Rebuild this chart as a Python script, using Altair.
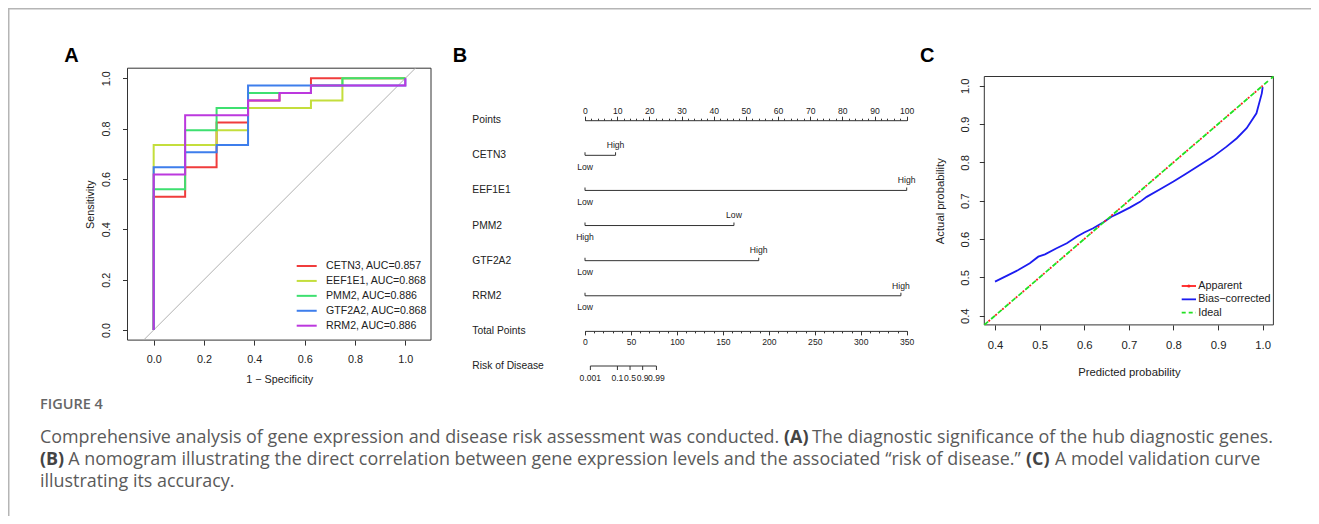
import math
import altair as alt
import pandas as pd

# ======================= DATA =======================
# Panel A - ROC curves (sensitivity level after each 1-specificity step)
genes = ["CETN3", "EEF1E1", "PMM2", "GTF2A2", "RRM2"]
gene_auc = ["0.857", "0.868", "0.886", "0.868", "0.886"]
fpr_steps = [0.0, 0.125, 0.25, 0.375, 0.5, 0.625, 0.75, 0.875]
sens_cetn3 = [0.529, 0.647, 0.824, 0.912, 0.941, 1.0, 1.0, 1.0]
sens_eef1e1 = [0.735, 0.735, 0.794, 0.882, 0.882, 0.912, 1.0, 1.0]
sens_pmm2 = [0.559, 0.794, 0.882, 0.941, 0.941, 0.971, 1.0, 1.0]
sens_gtf2a2 = [0.647, 0.706, 0.735, 0.971, 0.971, 0.971, 0.971, 0.971]
sens_rrm2 = [0.618, 0.853, 0.853, 0.912, 0.941, 0.971, 0.971, 0.971]
roc_sens = [sens_cetn3, sens_eef1e1, sens_pmm2, sens_gtf2a2, sens_rrm2]
roc_colors = ["#F03C3C", "#C4DE3C", "#3EE070", "#3E7EEC", "#BC38DE"]
roc_ticks = [0.0, 0.2, 0.4, 0.6, 0.8, 1.0]

# Panel B - nomogram
nomo_rows = ["Points", "CETN3", "EEF1E1", "PMM2", "GTF2A2", "RRM2",
             "Total Points", "Risk of Disease"]
gene_max_points = [9.5, 100.0, 46.3, 54.0, 98.2]
gene_left_label = ["Low", "Low", "High", "Low", "Low"]
gene_right_label = ["High", "High", "Low", "High", "High"]
points_major = list(range(0, 101, 10))
points_minor = list(range(0, 101, 2))
total_major = list(range(0, 351, 50))
total_minor = list(range(0, 351, 10))
risk_ticks = [0.001, 0.1, 0.5, 0.9, 0.99]
risk_labels = ["0.001", "0.1", "0.5", "0.9", "0.99"]
risk_intercept = 49.0   # total points where risk = 0.5
risk_slope = 6.25       # total points per logit unit

# Panel C - calibration
calib_pred = [0.400, 0.426, 0.452, 0.478, 0.497, 0.512, 0.538, 0.561, 0.583, 0.600,
              0.620, 0.643, 0.661, 0.680, 0.702, 0.725, 0.740, 0.770, 0.800, 0.829,
              0.859, 0.889, 0.919, 0.942, 0.964, 0.986, 0.998, 1.000]
calib_bias = [0.489, 0.504, 0.519, 0.537, 0.554, 0.560, 0.576, 0.589, 0.606, 0.617,
              0.628, 0.644, 0.658, 0.669, 0.682, 0.697, 0.710, 0.730, 0.750, 0.771,
              0.793, 0.815, 0.841, 0.863, 0.889, 0.928, 0.980, 0.996]
apparent_pred = [0.376, 1.0]
calib_ticks = [0.4, 0.5, 0.6, 0.7, 0.8, 0.9, 1.0]
calib_series = ["Apparent", "Bias\u2212corrected", "Ideal"]

# Caption
figure_label = "FIGURE 4"
caption_l1 = ["Comprehensive analysis of gene expression and disease risk assessment was conducted.",
              "(A)", "The diagnostic significance of the hub diagnostic genes."]
caption_l2 = ["(B)",
              "A nomogram illustrating the direct correlation between gene expression levels and the associated \u201crisk of disease.\u201d",
              "(C)", "A model validation curve"]
caption_l3 = ["illustrating its accuracy."]

# ======================= LAYOUT / STYLE =======================
W, H = 1303, 508
F = "Liberation Sans"
CF = "Open Sans"
INK = "#222222"
LINE = "#333333"


def V(p):
    return p - 8.0


def sc(domain, rng):
    return alt.Scale(domain=domain, range=rng, nice=False, zero=False)


def txt(t, x, y, size, weight="normal", color=INK, font=F, align="left",
        baseline="middle"):
    return alt.Chart(pd.DataFrame({"t": [t]})).mark_text(
        align=align, baseline=baseline, font=font, fontSize=size,
        fontWeight=weight, color=color
    ).encode(text="t:N", x=alt.value(x), y=alt.value(y))


def axis(orient, offset, values, fmt, size, pad, title=None, tpad=0,
         angle=None, tick=5, domain=False, labels=True):
    kw = dict(orient=orient, offset=offset, values=values, domain=domain,
              domainColor=LINE, domainWidth=1, tickSize=tick, tickColor=LINE,
              tickWidth=1, labels=labels, labelFont=F, labelFontSize=size,
              labelColor=INK, labelPadding=pad, labelFlush=False,
              labelOverlap=False, labelBound=False, grid=False, title=title)
    if fmt:
        kw["format"] = fmt
    if title:
        kw.update(titleFont=F, titleFontSize=size, titleFontWeight="normal",
                  titleColor=INK, titlePadding=tpad)
    if angle is not None:
        kw.update(labelAngle=angle, labelAlign="center", labelBaseline="bottom")
    return alt.Axis(**kw)


layers = []

# ---------- frame ----------
layers.append(alt.Chart(pd.DataFrame({"a": [0]})).mark_rule(color="#b5b5b5", strokeWidth=1.5)
              .encode(x=alt.value(0), x2=alt.value(W), y=alt.value(0.75)))
layers.append(alt.Chart(pd.DataFrame({"a": [0]})).mark_rule(color="#b5b5b5", strokeWidth=1.5)
              .encode(x=alt.value(0.75), y=alt.value(0), y2=alt.value(H)))

# ---------- panel A ----------
A_XD = [-0.104, 1.102]
A_YD = [-0.04, 1.04]
A_X = sc(A_XD, [V(127.5), V(431.0)])
A_Y = sc(A_YD, [V(340.1), V(68.2)])

ax_a_x = axis("bottom", V(340.1) - H, roc_ticks, ".1f", 10.8, 8.5,
              "1 \u2212 Specificity", 9.5)
ax_a_y = axis("left", -V(127.5), roc_ticks, ".1f", 10.8, 11,
              "Sensitivity", 5, angle=270)

box_a = pd.DataFrame({"x0": [A_XD[0]], "x1": [A_XD[1]], "y0": [A_YD[0]], "y1": [A_YD[1]]})
layers.append(alt.Chart(box_a).mark_rect(fillOpacity=0, stroke=LINE, strokeWidth=1).encode(
    x=alt.X("x0:Q", scale=A_X, axis=ax_a_x), x2="x1:Q",
    y=alt.Y("y0:Q", scale=A_Y, axis=ax_a_y), y2="y1:Q"))

diag_a = pd.DataFrame({"v": [A_YD[0], A_YD[1]]})
layers.append(alt.Chart(diag_a).mark_line(color="#b0b0b0", strokeWidth=1).encode(
    x=alt.X("v:Q", scale=A_X, axis=None), y=alt.Y("v:Q", scale=A_Y, axis=None)))

for g, s, col in zip(genes, roc_sens, roc_colors):
    xs = [0.0] + fpr_steps + [1.0]
    ys = [0.0] + s + [1.0]
    d = pd.DataFrame({"i": range(len(xs)), "fpr": xs, "sens": ys})
    layers.append(alt.Chart(d).mark_line(interpolate="step-after", color=col, strokeWidth=2).encode(
        x=alt.X("fpr:Q", scale=A_X, axis=None), y=alt.Y("sens:Q", scale=A_Y, axis=None),
        order=alt.Order("i:Q")))

leg_a = pd.DataFrame({"k": range(5), "gene": genes,
                      "label": [f"{g}, AUC={a}" for g, a in zip(genes, gene_auc)]})
LEG_A_Y = sc([0, 4], [V(266.0), V(325.7)])
layers.append(alt.Chart(leg_a).mark_rule(strokeWidth=2).encode(
    x=alt.value(V(296.7)), x2=alt.value(V(316.7)),
    y=alt.Y("k:Q", scale=LEG_A_Y, axis=None),
    color=alt.Color("gene:N", scale=alt.Scale(domain=genes, range=roc_colors), legend=None)))
layers.append(alt.Chart(leg_a).mark_text(align="left", baseline="middle", font=F, fontSize=10.6,
                                         color=INK).encode(
    x=alt.value(V(326.0)), y=alt.Y("k:Q", scale=LEG_A_Y, axis=None), text="label:N"))

layers.append(txt("A", V(64.3), V(61.7), 20, "bold", "#000", baseline="alphabetic"))

# ---------- panel B (nomogram) ----------
B_RANGE = [V(585.0), V(906.7)]
B_X = sc([0, 100], B_RANGE)
B_T = sc([0, 350], B_RANGE)
ROW0, ROW7 = V(120.2), V(366.0)
B_R = sc([0, 7], [ROW0, ROW7])


def row_px(i):
    return ROW0 + i * (ROW7 - ROW0) / 7.0


ax_pts = axis("top", -row_px(0), points_major, "d", 8.6, 1, tick=4, domain=True)
ax_pts_minor = axis("top", -row_px(0), points_minor, "d", 8.6, 1, tick=2, labels=False)
ax_tot = axis("bottom", row_px(6) - H, total_major, "d", 8.6, 3, tick=4, domain=True)
ax_tot_minor = axis("bottom", row_px(6) - H, total_minor, "d", 8.6, 3, tick=2, labels=False)

rows_df = pd.DataFrame({"name": nomo_rows, "idx": range(len(nomo_rows))})
layers.append(alt.Chart(rows_df).mark_text(align="left", baseline="middle", font=F, fontSize=10.3,
                                           color=INK).encode(
    x=alt.value(V(472.3)), y=alt.Y("idx:Q", scale=B_R, axis=None), text="name:N"))

gene_rows = list(range(1, 6))
g_df = pd.DataFrame({"gene": genes, "row": gene_rows, "start": [0.0] * 5, "end": gene_max_points})
layers.append(alt.Chart(g_df).mark_rule(color=LINE, strokeWidth=1).encode(
    x=alt.X("start:Q", scale=B_X, axis=ax_pts), x2="end:Q",
    y=alt.Y("row:Q", scale=B_R, axis=None)))

ends_df = pd.DataFrame({"pos": [0.0] * 5 + gene_max_points, "row": gene_rows * 2,
                        "label": gene_left_label + gene_right_label,
                        "side": ["below"] * 5 + ["above"] * 5})
layers.append(alt.Chart(ends_df).mark_tick(orient="vertical", size=3, thickness=1, yOffset=-1.5,
                                           color=LINE, opacity=1).encode(
    x=alt.X("pos:Q", scale=B_X, axis=ax_pts_minor), y=alt.Y("row:Q", scale=B_R, axis=None)))
layers.append(alt.Chart(ends_df).transform_filter(alt.datum.side == "below").mark_text(
    align="center", baseline="middle", font=F, fontSize=8.6, color=INK, dy=11.5).encode(
    x=alt.X("pos:Q", scale=B_X, axis=None), y=alt.Y("row:Q", scale=B_R, axis=None), text="label:N"))
layers.append(alt.Chart(ends_df).transform_filter(alt.datum.side == "above").mark_text(
    align="center", baseline="middle", font=F, fontSize=8.6, color=INK, dy=-10.2).encode(
    x=alt.X("pos:Q", scale=B_X, axis=None), y=alt.Y("row:Q", scale=B_R, axis=None), text="label:N"))

risk_pos = [risk_intercept + risk_slope * math.log(p / (1 - p)) for p in risk_ticks]
risk_df = pd.DataFrame({"pos": risk_pos, "label": risk_labels, "row": [7] * len(risk_pos)})
risk_line = pd.DataFrame({"a": [risk_pos[0]], "b": [risk_pos[-1]], "row": [7]})
layers.append(alt.Chart(risk_line).mark_rule(color=LINE, strokeWidth=1).encode(
    x=alt.X("a:Q", scale=B_T, axis=ax_tot), x2="b:Q", y=alt.Y("row:Q", scale=B_R, axis=None)))
layers.append(alt.Chart(risk_df).mark_tick(orient="vertical", size=4, thickness=1, yOffset=2,
                                           color=LINE, opacity=1).encode(
    x=alt.X("pos:Q", scale=B_T, axis=ax_tot_minor), y=alt.Y("row:Q", scale=B_R, axis=None)))
layers.append(alt.Chart(risk_df).mark_text(align="center", baseline="middle", font=F, fontSize=8.6,
                                           color=INK, dy=11.8).encode(
    x=alt.X("pos:Q", scale=B_T, axis=None), y=alt.Y("row:Q", scale=B_R, axis=None), text="label:N"))

layers.append(txt("B", V(452.7), V(61.7), 20, "bold", "#000", baseline="alphabetic"))

# ---------- panel C (calibration) ----------
C_D = [0.376, 1.024]
C_X = sc(C_D, [V(984.3), V(1273.4)])
C_Y = sc(C_D, [V(324.9), V(76.5)])
ax_c_x = axis("bottom", V(324.9) - H, calib_ticks, ".1f", 11.3, 10,
              "Predicted probability", 15)
ax_c_y = axis("left", -V(984.3), calib_ticks, ".1f", 11.3, 9,
              "Actual probability", 14, angle=270)

box_c = pd.DataFrame({"x0": [C_D[0]], "x1": [C_D[1]], "y0": [C_D[0]], "y1": [C_D[1]]})
layers.append(alt.Chart(box_c).mark_rect(fillOpacity=0, stroke=LINE, strokeWidth=1).encode(
    x=alt.X("x0:Q", scale=C_X, axis=ax_c_x), x2="x1:Q",
    y=alt.Y("y0:Q", scale=C_Y, axis=ax_c_y), y2="y1:Q"))

ideal_df = pd.DataFrame({"v": C_D})
app_df = pd.DataFrame({"v": apparent_pred})
bias_df = pd.DataFrame({"p": calib_pred, "o": calib_bias})
layers.append(alt.Chart(bias_df).mark_line(color="#1c1cf0", strokeWidth=1.8).encode(
    x=alt.X("p:Q", scale=C_X, axis=None), y=alt.Y("o:Q", scale=C_Y, axis=None)))
layers.append(alt.Chart(ideal_df).mark_line(color="#22e022", strokeWidth=1.8, strokeDash=[5, 4]).encode(
    x=alt.X("v:Q", scale=C_X, axis=None), y=alt.Y("v:Q", scale=C_Y, axis=None)))
layers.append(alt.Chart(app_df).mark_line(color="#ff2020", strokeWidth=1.8, strokeDash=[2, 7],
                                          strokeDashOffset=3.5).encode(
    x=alt.X("v:Q", scale=C_X, axis=None), y=alt.Y("v:Q", scale=C_Y, axis=None)))

LEG_C_Y = sc([0, 2], [V(286.0), V(312.7)])
leg_c = pd.DataFrame({"k": range(3), "label": calib_series})
LX0, LX1 = V(1181.7), V(1196.0)
layers.append(alt.Chart(leg_c).transform_filter(alt.datum.k == 0).mark_rule(
    color="#ff2020", strokeWidth=1.8).encode(
    x=alt.value(LX0), x2=alt.value(LX1), y=alt.Y("k:Q", scale=LEG_C_Y, axis=None)))
layers.append(alt.Chart(leg_c).transform_filter(alt.datum.k == 0).mark_point(
    color="#ff2020", filled=True, size=10, opacity=1).encode(
    x=alt.value((LX0 + LX1) / 2), y=alt.Y("k:Q", scale=LEG_C_Y, axis=None)))
layers.append(alt.Chart(leg_c).transform_filter(alt.datum.k == 1).mark_rule(
    color="#1c1cf0", strokeWidth=1.8).encode(
    x=alt.value(LX0), x2=alt.value(LX1), y=alt.Y("k:Q", scale=LEG_C_Y, axis=None)))
layers.append(alt.Chart(leg_c).transform_filter(alt.datum.k == 2).mark_rule(
    color="#22e022", strokeWidth=1.8, strokeDash=[4, 3]).encode(
    x=alt.value(LX0), x2=alt.value(LX1), y=alt.Y("k:Q", scale=LEG_C_Y, axis=None)))
layers.append(alt.Chart(leg_c).mark_text(align="left", baseline="middle", font=F, fontSize=10.8,
                                         color=INK).encode(
    x=alt.value(V(1198.3)), y=alt.Y("k:Q", scale=LEG_C_Y, axis=None), text="label:N"))

layers.append(txt("C", V(920.0), V(62.0), 20, "bold", "#000", baseline="alphabetic"))

# ---------- caption ----------
CAP_SIZE = 17.9
CAP_COL = "#5a5a5a"
layers.append(txt(figure_label, V(40), V(405), 14.5, 600, "#666666", font=CF))
cap_layout = [
    (caption_l1, [40, 784, 812], [False, True, False], 438),
    (caption_l2, [40, 68.3, 1026, 1055], [True, False, True, False], 460),
    (caption_l3, [40], [False], 482),
]
for segs, xs, bolds, yy in cap_layout:
    for s, xx, b in zip(segs, xs, bolds):
        layers.append(txt(s, V(xx), V(yy), CAP_SIZE, "bold" if b else "normal",
                          "#444444" if b else CAP_COL, font=CF))

chart = alt.layer(*layers).resolve_scale(
    x="independent", y="independent"
).properties(
    width=W, height=H, autosize=alt.AutoSizeParams(type="none"), padding=0,
    background="white"
).configure_view(strokeOpacity=0).configure_axis(grid=False)

chart.save("out.html", embed_options={"renderer": "svg", "actions": False})
